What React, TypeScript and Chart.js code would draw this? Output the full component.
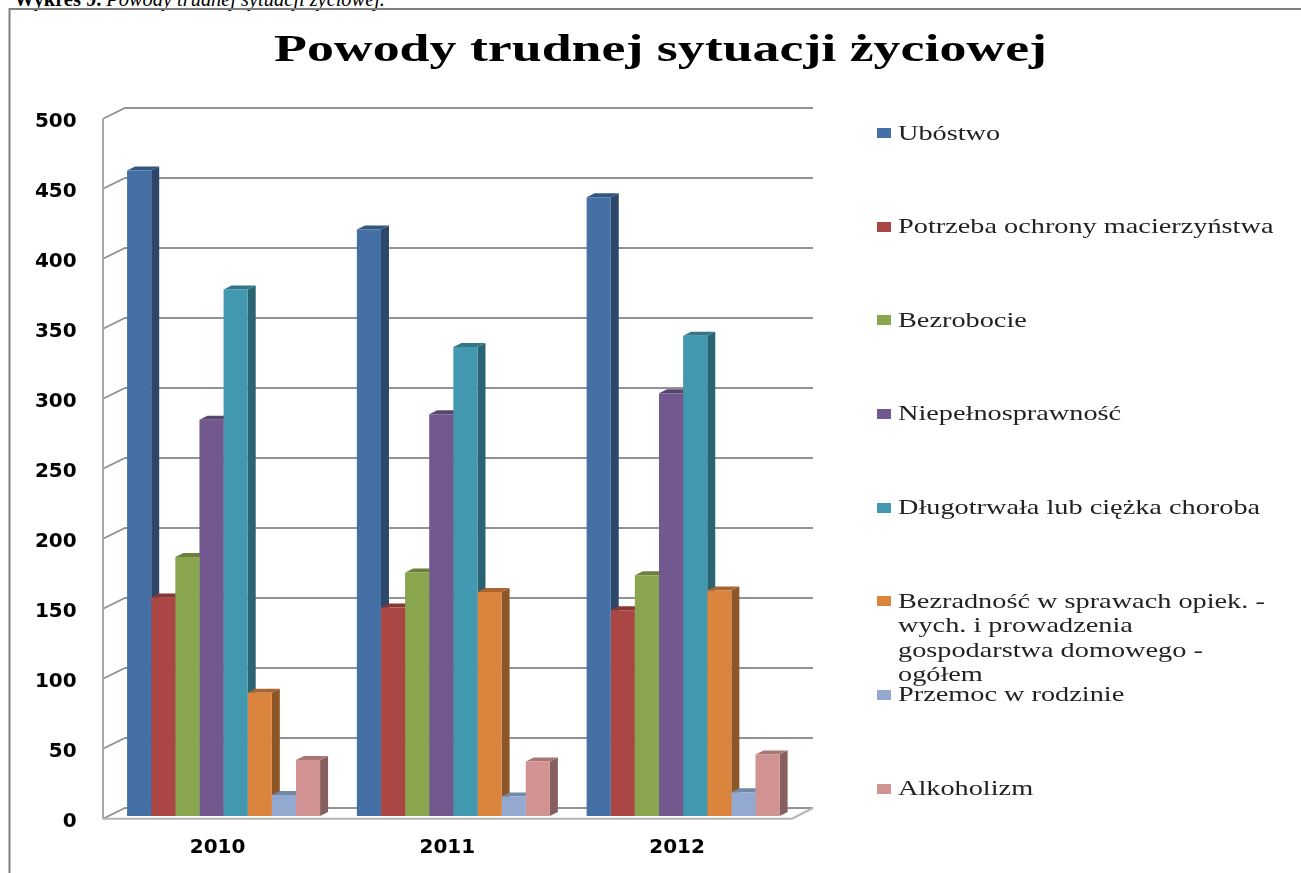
import React, { useEffect, useRef } from "react";
import { Chart, registerables } from "chart.js";

Chart.register(...registerables);

const titleText = "Powody trudnej sytuacji życiowej";
const captionBold = "Wykres 9.";
const captionRest = " Powody trudnej sytuacji życiowej.";
const years = ["2010", "2011", "2012"];
const seriesNames = [
  "Ubóstwo",
  "Potrzeba ochrony macierzyństwa",
  "Bezrobocie",
  "Niepełnosprawność",
  "Długotrwała lub ciężka choroba",
  "Bezradność w sprawach opiek. -\nwych. i prowadzenia\ngospodarstwa domowego -\nogółem",
  "Przemoc w rodzinie",
  "Alkoholizm",
];
const ubostwo = [461, 419, 442];
const potrzeba = [156, 149, 147];
const bezrobocie = [185, 174, 172];
const niepelno = [283, 287, 302];
const choroba = [376, 335, 343];
const bezradnosc = [88, 160, 161];
const przemoc = [15, 14, 17];
const alkoholizm = [40, 39, 44];
const seriesValues = [ubostwo, potrzeba, bezrobocie, niepelno, choroba, bezradnosc, przemoc, alkoholizm];
const frontColors = ["#4470A5", "#AA4643", "#89A54E", "#71588F", "#4198AF", "#DB843D", "#93A9CF", "#D19392"];
const sideColors = ["#2C4769", "#6F2D2B", "#597033", "#493A5D", "#2A6372", "#8E5627", "#5F6E87", "#885F5F"];
const topColors = ["#335680", "#843735", "#6A803C", "#58456F", "#327688", "#A96630", "#7288A8", "#A87674"];

const DEPTH_X = 8;
const DEPTH_Y = 4;
const GRID = "#929292";
const TITLE_WIDTH = 773;

const scene3d = {
  id: "scene3d",
  beforeDraw(chart: any) {
    // the reference's title is stretched sideways: widen the library's own title box when it draws
    const box = chart.titleBlock;
    if (!box || box.__stretched) return;
    box.__stretched = true;
    const original = box.draw;
    box.draw = function (...args: any[]) {
      const ctx = this.ctx;
      const cx = this.left + this.width / 2;
      ctx.save();
      ctx.font = "bold 37px 'Liberation Serif'";
      const sx = TITLE_WIDTH / ctx.measureText(titleText).width;
      ctx.restore();
      ctx.save();
      ctx.translate(cx, 0);
      ctx.scale(sx, 1);
      ctx.translate(-cx, 0);
      original.apply(this, args);
      ctx.restore();
    };
  },
  beforeDatasetsDraw(chart: any) {
    const { ctx, scales, chartArea } = chart;
    const y = scales.y;
    const left = 103;
    const backLeft = 125;
    const backRight = chartArea.right + 15;
    const frontRight = chartArea.right - 6;
    const backShift = -8;
    const front = (v: number) => y.getPixelForValue(v) + 2.7;
    const back = (v: number) => y.getPixelForValue(v) + backShift;

    ctx.save();
    // frame
    ctx.strokeStyle = "#808080";
    ctx.lineWidth = 2;
    ctx.beginPath();
    ctx.moveTo(9.5, 873);
    ctx.lineTo(9.5, 9);
    ctx.lineTo(1301, 9);
    ctx.stroke();

    // gridlines: side wall then back wall
    ctx.strokeStyle = GRID;
    ctx.lineWidth = 1.8;
    y.ticks.forEach((t: any) => {
      ctx.beginPath();
      ctx.moveTo(left, front(t.value));
      ctx.lineTo(backLeft, back(t.value));
      ctx.lineTo(backRight, back(t.value));
      ctx.stroke();
    });
    // left axis and floor
    ctx.strokeStyle = "#a8a8a8";
    ctx.lineWidth = 2;
    ctx.beginPath();
    ctx.moveTo(left, front(500));
    ctx.lineTo(left, front(0));
    ctx.stroke();
    ctx.strokeStyle = "#b4b4b4";
    ctx.beginPath();
    ctx.moveTo(left, front(0));
    ctx.lineTo(frontRight, front(0));
    ctx.lineTo(backRight, back(0));
    ctx.stroke();

    // depth faces of every bar
    seriesValues.forEach((_, i) => {
      chart.getDatasetMeta(i).data.forEach((bar: any) => {
        const p = bar.getProps(["x", "y", "base", "width"], true);
        const r = p.x + p.width / 2;
        const l = p.x - p.width / 2;
        ctx.fillStyle = sideColors[i];
        ctx.beginPath();
        ctx.moveTo(r, p.y);
        ctx.lineTo(r + DEPTH_X, p.y - DEPTH_Y);
        ctx.lineTo(r + DEPTH_X, p.base - DEPTH_Y);
        ctx.lineTo(r, p.base);
        ctx.closePath();
        ctx.fill();
        ctx.fillStyle = topColors[i];
        ctx.beginPath();
        ctx.moveTo(l, p.y);
        ctx.lineTo(l + DEPTH_X, p.y - DEPTH_Y);
        ctx.lineTo(r + DEPTH_X, p.y - DEPTH_Y);
        ctx.lineTo(r, p.y);
        ctx.closePath();
        ctx.fill();
      });
    });
    ctx.restore();
  },
};

export default function App() {
  const ref = useRef<HTMLCanvasElement | null>(null);
  useEffect(() => {
    if (!ref.current) return;
    const chart = new Chart(ref.current, {
      type: "bar",
      data: {
        labels: years,
        datasets: seriesNames.map((name, i) => ({
          label: name.replace(/\n/g, " "),
          data: seriesValues[i],
          backgroundColor: frontColors[i],
          borderWidth: 0,
          categoryPercentage: 0.84,
          barPercentage: 1,
          yAxisID: "y",
        })),
      },
      options: {
        responsive: false,
        animation: false,
        layout: { padding: { left: 20, right: 0, top: 0, bottom: 0 } },
        plugins: {
          legend: { display: false },
          tooltip: { enabled: false },
          title: {
            display: true,
            text: titleText,
            color: "#000",
            font: { family: "Liberation Serif", weight: "bold", size: 37 },
            padding: { top: 29, bottom: 42.6 },
          },
        },
        scales: {
          x: {
            grid: { display: false, drawTicks: false },
            border: { display: false },
            afterFit(s: any) {
              s.height = 57;
            },
            ticks: {
              labelOffset: -6,
              padding: 20,
              color: "#000",
              font: { family: "DejaVu Sans", weight: "bold", size: 20 },
            },
          },
          y: {
            min: 0,
            max: 500,
            grid: { display: false, drawTicks: false },
            border: { display: false },
            afterFit(s: any) {
              s.width = 88.7;
            },
            ticks: {
              stepSize: 50,
              labelOffset: 5.5,
              padding: 32,
              color: "#000",
              font: { family: "DejaVu Sans", weight: "bold", size: 20 },
            },
          },
          spacer: {
            position: "right",
            min: 0,
            max: 500,
            grid: { display: false, drawTicks: false },
            border: { display: false },
            ticks: { display: false },
            afterFit(s: any) {
              s.width = 503;
            },
          },
        },
      } as any,
      plugins: [scene3d],
    });
    return () => chart.destroy();
  }, []);

  return (
    <div style={{ position: "fixed", left: 0, top: 0, width: 1301, height: 873, overflow: "hidden", background: "#fff" }}>
      <div
        style={{
          position: "absolute",
          left: 14,
          top: -13,
          font: "italic 20.4px 'Liberation Serif'",
          lineHeight: "24px",
          whiteSpace: "pre",
          color: "#000",
        }}
      >
        <b style={{ fontStyle: "normal" }}>{captionBold}</b>
        {captionRest}
      </div>
      <canvas ref={ref} width={1301} height={873} style={{ position: "absolute", left: 0, top: 0 }} />
      {seriesNames.map((name, i) => {
        const cy = 133 + 93.65 * i;
        return (
          <React.Fragment key={name}>
            <div
              style={{
                position: "absolute",
                left: 877,
                top: cy - 5,
                width: 13.5,
                height: 10,
                background: frontColors[i],
              }}
            />
            <div
              style={{
                position: "absolute",
                left: 898,
                top: cy - 12.5,
                font: "21px 'Liberation Serif'",
                lineHeight: "24.5px",
                whiteSpace: "pre",
                color: "#222",
                transform: "scaleX(1.347)",
                transformOrigin: "left top",
              }}
            >
              {name}
            </div>
          </React.Fragment>
        );
      })}
    </div>
  );
}
